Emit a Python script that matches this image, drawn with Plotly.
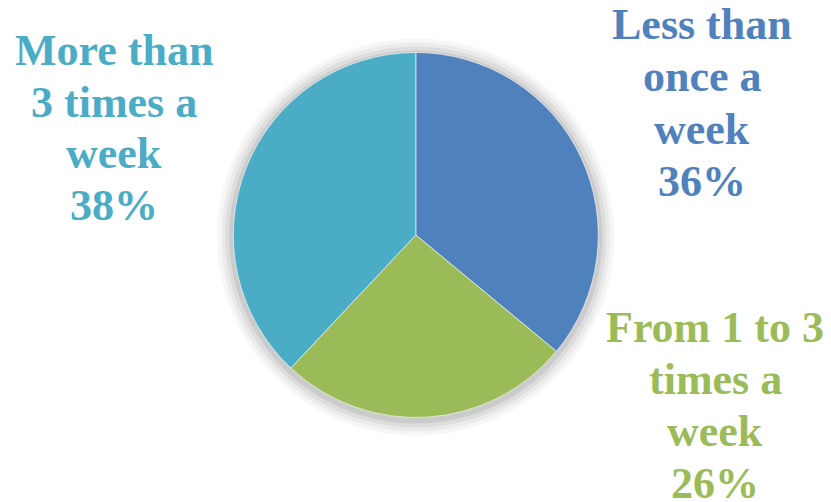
import plotly.graph_objects as go

# Survey answers: how often respondents do the activity
categories = ["Less than once a week", "From 1 to 3 times a week", "More than 3 times a week"]
values = [36, 26, 38]
colors = ["#4F81BD", "#9BBB59", "#4BACC6"]
# Label text for each slice, split into display lines
label_lines = [
    ["Less than", "once a", "week"],
    ["From 1 to 3", "times a", "week"],
    ["More than", "3 times a", "week"],
]

W, H = 831, 502
CX, CY, R = 415.8, 235.0, 182.5  # pie centre and radius in pixels

# Where each label block sits: horizontal centre and first baseline (pixels)
label_anchor = [(702, 40), (715, 342), (114, 65)]
LINE_STEP = 52
FONT_SIZE = 44
FONT_FAMILY = "Liberation Serif"

fig = go.Figure()
fig.add_trace(go.Pie(
    labels=categories,
    values=values,
    sort=False,
    direction="clockwise",
    rotation=0,
    textinfo="none",
    hoverinfo="label+percent",
    marker=dict(colors=colors, line=dict(color="rgba(255,255,255,0.6)", width=1)),
    domain=dict(x=[(CX - R) / W, (CX + R) / W], y=[(H - CY - R) / H, (H - CY + R) / H]),
    showlegend=False,
))

# Soft drop shadow under the pie: stacked translucent discs
shapes = []
for grow, alpha in [(16, 0.035), (12, 0.045), (8, 0.06), (4, 0.08)]:
    rr = R + grow
    cy = CY + 2
    shapes.append(dict(
        type="circle", xref="paper", yref="paper", layer="below",
        x0=(CX - rr) / W, x1=(CX + rr) / W,
        y0=(H - cy - rr) / H, y1=(H - cy + rr) / H,
        fillcolor=f"rgba(0,0,0,{alpha})", line=dict(width=0),
    ))

total = sum(values)
annotations = []
for lines, v, col, (ax, by) in zip(label_lines, values, colors, label_anchor):
    pct = f"{round(100 * v / total)}%"
    for i, txt in enumerate(lines + [pct]):
        baseline = by + i * LINE_STEP
        annotations.append(dict(
            text=f"<b>{txt}</b>", xref="paper", yref="paper",
            x=ax / W, y=(H - (baseline - 15)) / H,
            xanchor="center", yanchor="middle", showarrow=False,
            font=dict(family=FONT_FAMILY, size=FONT_SIZE, color=col),
        ))

fig.update_layout(
    width=W, height=H,
    margin=dict(l=0, r=0, t=0, b=0),
    paper_bgcolor="white", plot_bgcolor="white",
    shapes=shapes, annotations=annotations,
)

fig.write_html("out.html")
